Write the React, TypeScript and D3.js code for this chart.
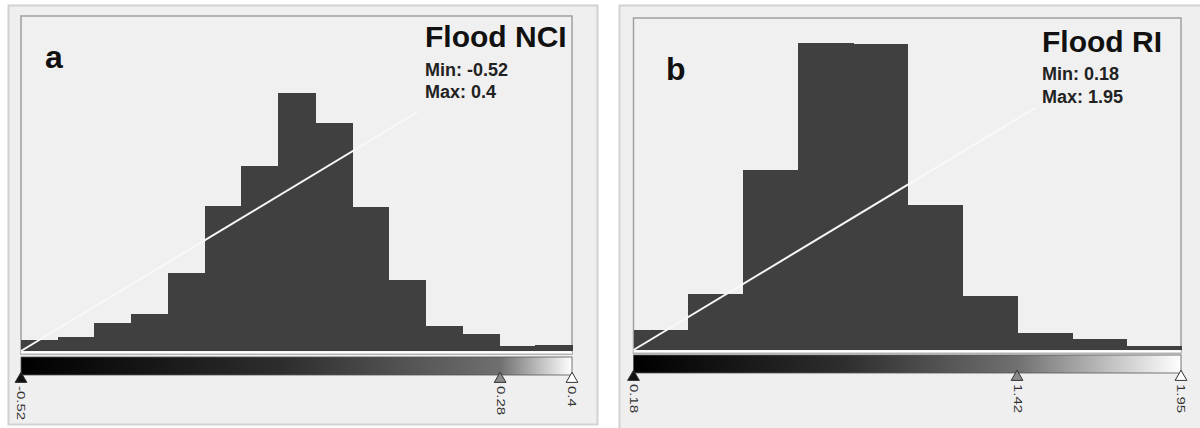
import React, { useRef, useEffect } from "react";
import * as d3 from "d3";

// panel a - Flood NCI, 15 bins between min and max
const nciRange = [-0.52, 0.4];
const nciCounts = [11, 14, 28, 37, 78, 145, 185, 258, 228, 144, 71, 25, 17, 5, 6];
const nciMarkers = [-0.52, 0.28, 0.4];
const nciMarkerLabels = ["-0.52", "0.28", "0.4"];
const nciStretch = [[-0.52, 0], [0.142, 239]];

// panel b - Flood RI, 10 bins between min and max
const riRange = [0.18, 1.95];
const riCounts = [20, 56, 180, 307, 306, 145, 54, 17, 11, 4];
const riMarkers = [0.18, 1.42, 1.95];
const riMarkerLabels = ["0.18", "1.42", "1.95"];
const riStretch = [[0.18, 0], [1.478, 242]];

const panels = [
    {
        id: "a", letter: "a", title: "Flood NCI", range: nciRange, counts: nciCounts,
        markers: nciMarkers, markerLabels: nciMarkerLabels, stretch: nciStretch,
        box: [8, 5, 589, 419], plot: [21, 16, 572, 351], yMax: 335,
        barY: 357, letterPos: [45, 68], textX: 425, textY: [47, 76, 98],
    },
    {
        id: "b", letter: "b", title: "Flood RI", range: riRange, counts: riCounts,
        markers: riMarkers, markerLabels: riMarkerLabels, stretch: riStretch,
        box: [619, 5, 600, 440], plot: [633.5, 18, 1181, 350], yMax: 332,
        barY: 355, letterPos: [666, 80], textX: 1042, textY: [52, 80, 103],
    },
];

const FONT = "Liberation Sans, Arial, sans-serif";

const App = () => {
    const chartRef = useRef();

    useEffect(() => {
        drawChart();
    }, []);

    const drawChart = () => {
        if (!chartRef.current) return;
        document.body.style.margin = "0";

        d3.select(chartRef.current).selectAll("*").remove();

        const svg = d3
            .select(chartRef.current)
            .attr("width", 1200)
            .attr("height", 428)
            .style("display", "block")
            .style("background", "#ffffff");

        const defs = svg.append("defs");

        panels.forEach((p) => {
            const [x0, y0, x1, y1] = p.plot;

            const x = d3.scaleLinear().domain(p.range).range([x0, x1]);
            const y = d3.scaleLinear().domain([0, p.yMax]).range([y1, y0]);

            const g = svg.append("g");

            // outer panel box
            g.append("rect")
                .attr("x", p.box[0] + 0.5)
                .attr("y", p.box[1] + 0.5)
                .attr("width", p.box[2])
                .attr("height", p.box[3])
                .attr("fill", "#efefef")
                .attr("stroke", "#d2d2d2")
                .attr("stroke-width", 2);

            // histogram frame
            g.append("rect")
                .attr("x", x0)
                .attr("y", y0)
                .attr("width", x1 - x0)
                .attr("height", y1 - y0 + 3)
                .attr("fill", "#f0f0f0")
                .attr("stroke", "#a0a0a0")
                .attr("stroke-width", 1.5);

            const n = p.counts.length;
            const step = (p.range[1] - p.range[0]) / n;
            const bins = p.counts.map((c, i) => ({
                x0: p.range[0] + i * step,
                x1: p.range[0] + (i + 1) * step,
                count: c,
            }));

            g.selectAll(".bar")
                .data(bins)
                .enter()
                .append("rect")
                .attr("class", "bar")
                .attr("x", (d) => Math.round(x(d.x0)))
                .attr("y", (d) => Math.round(y(d.count)))
                .attr("width", (d) => Math.round(x(d.x1)) - Math.round(x(d.x0)) + 1)
                .attr("height", (d) => Math.round(y(0)) - Math.round(y(d.count)))
                .attr("fill", "#404040")
                .attr("shape-rendering", "crispEdges");

            // stretch line
            g.append("path")
                .datum(p.stretch)
                .attr("d", d3.line().x((d) => x(d[0])).y((d) => y(d[1])))
                .attr("stroke", "#f8f8f8")
                .attr("stroke-width", 2)
                .attr("fill", "none");

            // baseline
            g.append("line")
                .attr("x1", x0)
                .attr("x2", x1)
                .attr("y1", y(0) + 1.5)
                .attr("y2", y(0) + 1.5)
                .attr("stroke", "#ffffff")
                .attr("stroke-width", 2);

            // colour ramp
            const midPos = (p.markers[1] - p.range[0]) / (p.range[1] - p.range[0]);
            const grad = defs.append("linearGradient").attr("id", "ramp-" + p.id);
            grad.append("stop").attr("offset", 0).attr("stop-color", "#000000");
            grad.append("stop").attr("offset", midPos * 0.55).attr("stop-color", "#2e2e2e");
            grad.append("stop").attr("offset", midPos).attr("stop-color", "#707070");
            grad.append("stop").attr("offset", 1).attr("stop-color", "#ffffff");

            g.append("rect")
                .attr("x", x0)
                .attr("y", p.barY)
                .attr("width", x1 - x0)
                .attr("height", 18)
                .attr("fill", `url(#ramp-${p.id})`)
                .attr("stroke", "#555")
                .attr("stroke-width", 0.8);

            const markerFill = ["#111111", "#8a8a8a", "#ffffff"];
            g.selectAll(".marker")
                .data(p.markers)
                .enter()
                .append("path")
                .attr("class", "marker")
                .attr("d", d3.symbol(d3.symbolTriangle, 60))
                .attr("transform", (d) => `translate(${x(d)},${p.barY + 22})`)
                .attr("fill", (d, i) => markerFill[i])
                .attr("stroke", "#333")
                .attr("stroke-width", 1);

            g.selectAll(".marker-label")
                .data(p.markers)
                .enter()
                .append("text")
                .attr("class", "marker-label")
                .attr("transform", (d) => `translate(${x(d)},${p.barY + 29}) rotate(90) scale(1.5,1)`)
                .attr("dy", "0.35em")
                .style("font-family", FONT)
                .style("font-size", "10px")
                .style("fill", "#333")
                .text((d, i) => p.markerLabels[i]);

            // letter and title block
            g.append("text")
                .attr("x", p.letterPos[0])
                .attr("y", p.letterPos[1])
                .style("font-family", FONT)
                .style("font-weight", "bold")
                .style("font-size", "32px")
                .style("fill", "#111")
                .text(p.letter);

            g.append("text")
                .attr("x", p.textX)
                .attr("y", p.textY[0])
                .style("font-family", FONT)
                .style("font-weight", "bold")
                .style("font-size", "30px")
                .style("fill", "#111")
                .text(p.title);

            g.append("text")
                .attr("x", p.textX)
                .attr("y", p.textY[1])
                .style("font-family", FONT)
                .style("font-weight", "bold")
                .style("font-size", "18px")
                .style("fill", "#222")
                .text(`Min: ${p.range[0]}`);

            g.append("text")
                .attr("x", p.textX)
                .attr("y", p.textY[2])
                .style("font-family", FONT)
                .style("font-weight", "bold")
                .style("font-size", "18px")
                .style("fill", "#222")
                .text(`Max: ${p.range[1]}`);
        });
    };

    return <svg ref={chartRef}></svg>;
};

export default App;
